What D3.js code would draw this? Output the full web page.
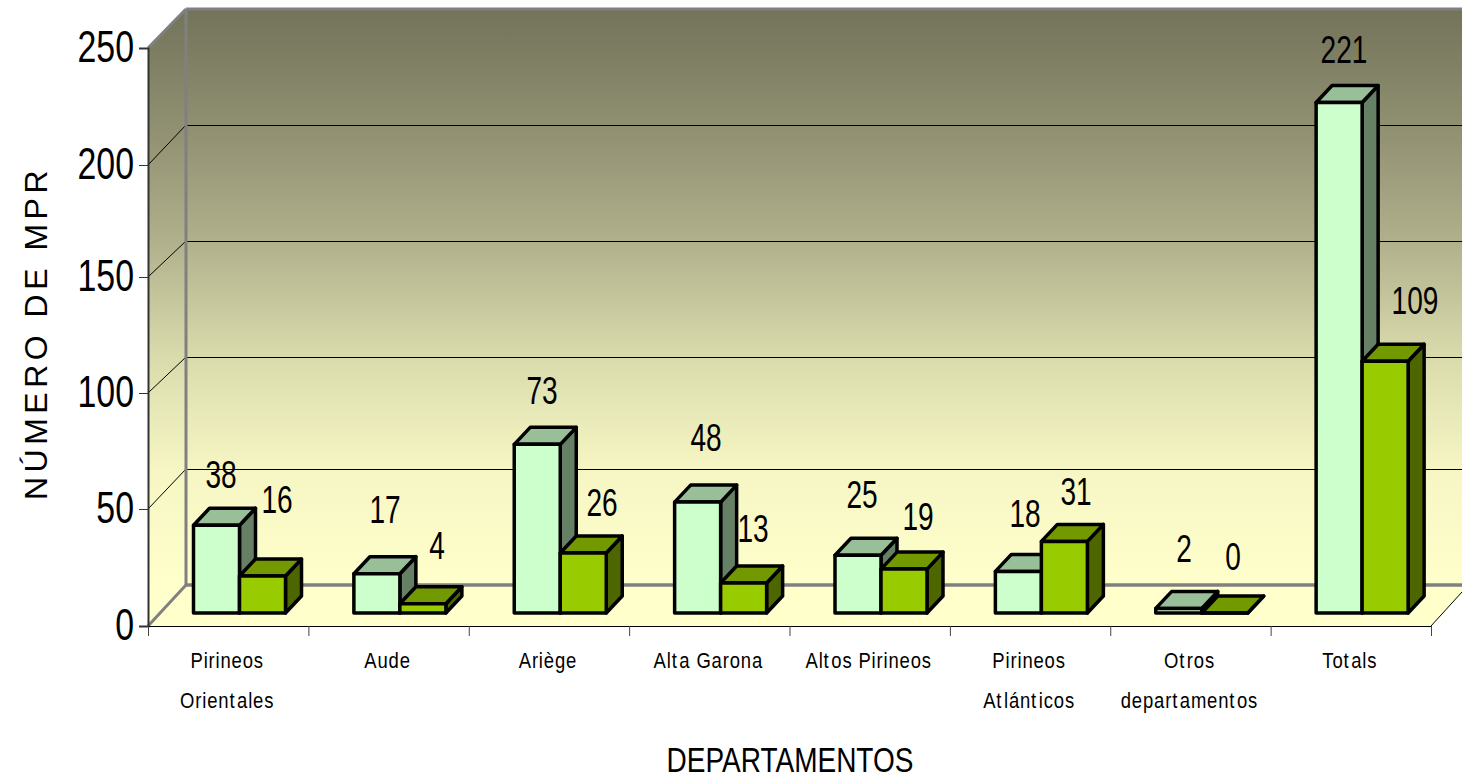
<!DOCTYPE html>
<html><head><meta charset="utf-8">
<script src="https://cdn.jsdelivr.net/npm/d3@7/dist/d3.min.js"></script>
<style>html,body{margin:0;padding:0;background:#fff;overflow:hidden}svg{display:block}text{font-family:"Liberation Sans",Arial,sans-serif;fill:#000}</style>
</head><body><svg id="c" width="1462" height="780"></svg>
<script>
const categories = [["Pirineos","Orientales"],["Aude"],["Ariège"],["Alta Garona"],["Altos Pirineos"],["Pirineos","Atlánticos"],["Otros","departamentos"],["Totals"]];
const seriesA = [38,17,73,48,25,18,2,221];
const seriesB = [16,4,26,13,19,31,0,109];
const yTicks = [0,50,100,150,200,250];
const xTitle = "DEPARTAMENTOS";
const yTitle = "NÚMERO DE MPR";
// hand-placed data label centres of the original (x, baseline y)
const labelPosA = [[221,488],[385,523],[542,404],[706,451],[862,508],[1025,527],[1184,562],[1344,63]];
const labelPosB = [[277,513],[437,559],[602,516],[753,542],[918,530],[1076,505],[1233,570],[1415,314]];
// the original's pixel-rounded gridline rows
const frontRows = [626,509,393,277,165,48];
const backRows = [585,469,357,241,125,9];

const svg = d3.select("#c");
const L=148,R=1431,DX=38,W=1462;
const yFront=d3.scaleLinear().domain(yTicks).range(frontRows);
const yBack=d3.scaleLinear().domain(yTicks).range(backRows);
const yBar=d3.scaleLinear().domain([0,250]).range([613,35.5]);
const xIdx=d3.scaleLinear().domain([0,8]).range([L,R]);
const xBand=d3.scaleBand().domain(d3.range(8)).range([L,R]);
const xSub=d3.scaleBand().domain([0,1]).range([45.5,137.5]);
const defs=svg.append("defs");
const stops=[[9,"#73735a"],[125,"#8f8f71"],[241,"#b0b08c"],[357,"#dadbac"],[469,"#f6f6c4"],[585,"#ffffcc"]];
const g=defs.append("linearGradient").attr("id","wall").attr("gradientUnits","userSpaceOnUse").attr("x1",0).attr("x2",0).attr("y1",9).attr("y2",585);
stops.forEach(s=>g.append("stop").attr("offset",(s[0]-9)/576).attr("stop-color",s[1]));

const poly=(pts,fill,stroke,sw)=>svg.append("polygon").attr("points",pts.map(p=>p.join(",")).join(" ")).attr("fill",fill).attr("stroke",stroke||"none").attr("stroke-width",sw||0).attr("stroke-linejoin","round");
const line=(a,b,c,w)=>svg.append("line").attr("x1",a[0]).attr("y1",a[1]).attr("x2",b[0]).attr("y2",b[1]).attr("stroke",c).attr("stroke-width",w);

// walls and floor
poly([[L+DX,yBack(250)],[W,yBack(250)],[W,yBack(0)],[L+DX,yBack(0)]],"url(#wall)");
poly([[L,yFront(250)],[L+DX,yBack(250)],[L+DX,yBack(0)],[L,yFront(0)]],"url(#wall)");
poly([[L,yFront(0)],[L+DX,yBack(0)],[W,yBack(0)],[W,yBack(0)+7],[R,yFront(0)]],"#ffffcc");
yTicks.filter(t=>t>0&&t<250).forEach(t=>{
  line([L+DX,yBack(t)+.5],[W,yBack(t)+.5],"#000",1);
  line([L,yFront(t)],[L+DX,yBack(t)],"#000",1);
});
// gray wall edges
const gray="#808080";
line([L+DX,yBack(0)],[W,yBack(0)],gray,3.5);
line([L+DX,yBack(250)],[W,yBack(250)],gray,3);
line([L+DX,yBack(250)],[L+DX,yBack(0)],gray,3);
line([L,yFront(250)],[L+DX,yBack(250)],gray,3);
line([L,yFront(0)],[L+DX,yBack(0)],gray,3);
line([R,yFront(0)],[W,yBack(0)+7],"#000",1);

// axes
const axY=svg.append("g").attr("transform",`translate(${L},0)`).call(d3.axisLeft(yFront).tickValues(yTicks).tickSize(9).tickFormat(""));
axY.select(".domain").attr("stroke","#333").attr("stroke-width",2);
axY.selectAll(".tick line").attr("stroke","#333");
const axX=svg.append("g").attr("transform",`translate(0,${yFront(0)})`).call(d3.axisBottom(xIdx).tickValues(d3.range(9)).tickSize(10).tickFormat(""));
axX.select(".domain").attr("stroke","#000").attr("stroke-width",1);
axX.selectAll(".tick line").attr("stroke","#444");

function sq(x,y,txt,size,sx,anchor){
  return svg.append("text").attr("transform",`translate(${x},${y}) scale(${sx},1)`).attr("text-anchor",anchor||"middle").attr("font-size",size).text(txt);
}
yTicks.forEach(t=>sq(134,yFront(t)+14,t,44,.77,"end"));
const bw=xSub.bandwidth(),dd=16,dh=17;
function bar(i,s,v,cf,ct,cs){
  const x=xBand(i)+xSub(s),y=yBar(v),y0=yBar(0),sw=3.5;
  poly([[x+bw,y],[x+bw+dd,y-dh],[x+bw+dd,y0-dh],[x+bw,y0]],cs,"#000",sw);
  poly([[x,y],[x+dd,y-dh],[x+bw+dd,y-dh],[x+bw,y]],ct,"#000",sw);
  poly([[x,y],[x+bw,y],[x+bw,y0],[x,y0]],cf,"#000",sw);
}
d3.range(8).forEach(i=>{
  bar(i,0,seriesA[i],"#ccffcc","#99bf99","#668066");
  bar(i,1,seriesB[i],"#99cc00","#739900","#4d6600");
});
seriesA.forEach((v,i)=>sq(labelPosA[i][0],labelPosA[i][1],v,39,.72));
seriesB.forEach((v,i)=>sq(labelPosB[i][0],labelPosB[i][1],v,39,.72));
// category labels: the original's renderer opens a small gap after each "t"
const lineY=[668,708];
categories.forEach((c,i)=>c.forEach((t,j)=>{
  const el=sq(xBand(i)+xBand.bandwidth()/2-1,lineY[j],"",22,.84).attr("letter-spacing",1);
  t.split(/(?<=t)/).forEach((part,k)=>el.append("tspan").attr("dx",k?2:0).text(part));
}));
sq(790,772,xTitle,35,.8);
svg.append("text").attr("transform","translate(47,333) rotate(-90)").attr("text-anchor","middle").attr("font-size",32).attr("letter-spacing",4.5).text(yTitle);
</script></body></html>
